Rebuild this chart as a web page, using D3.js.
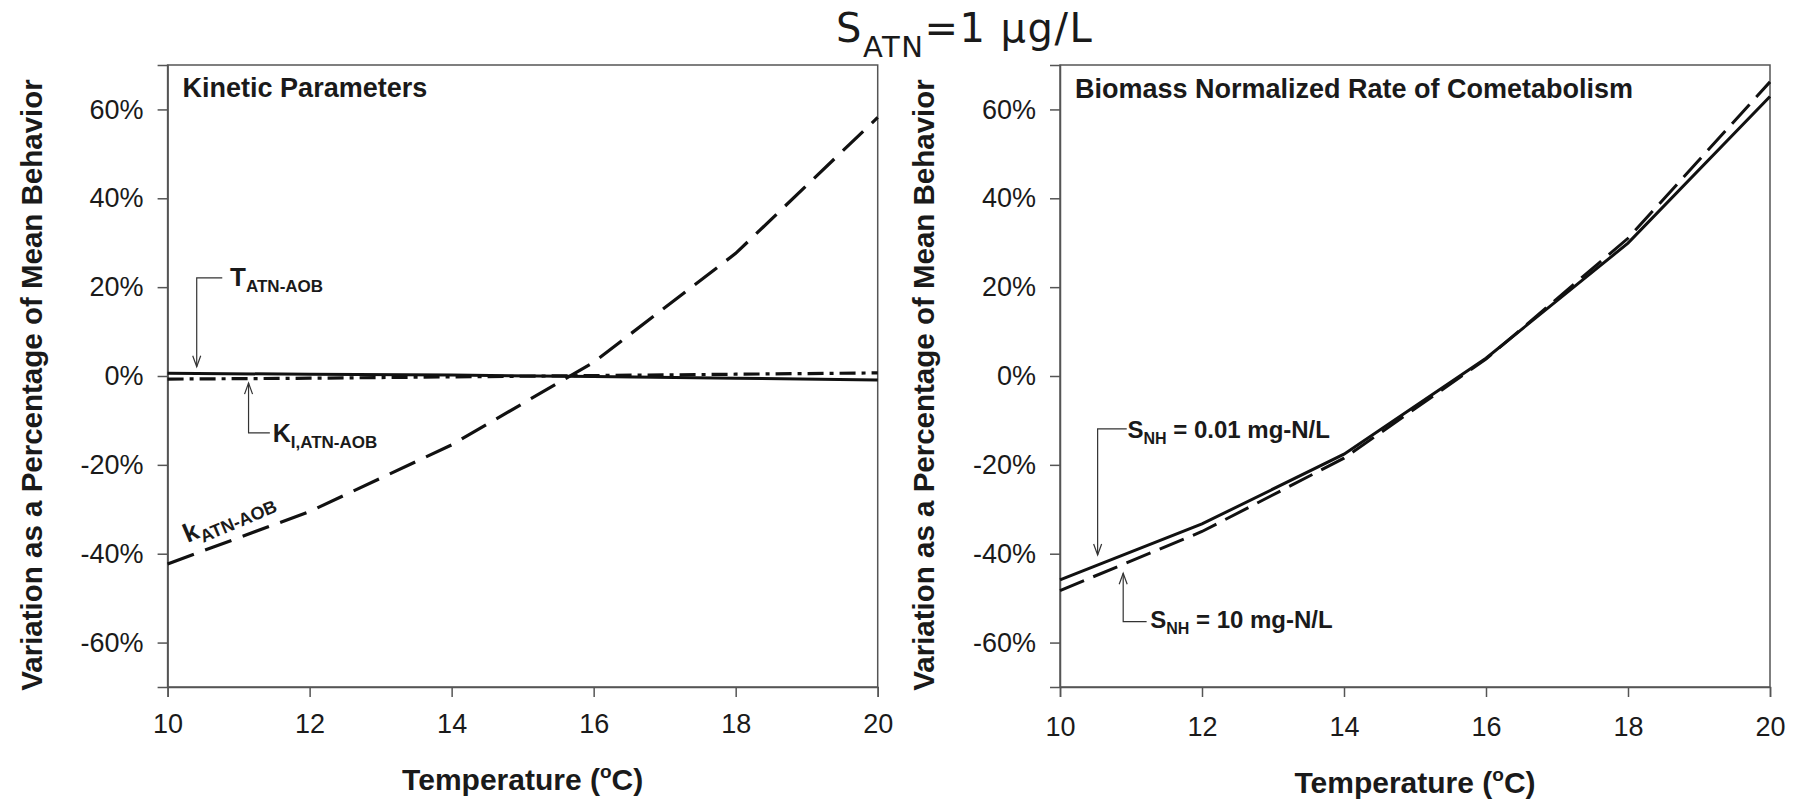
<!DOCTYPE html>
<html>
<head>
<meta charset="utf-8">
<script src="https://cdn.jsdelivr.net/npm/d3@7"></script>
<style>
  html, body { margin: 0; padding: 0; background: #fff; }
  svg { display: block; }
  text { fill: #1a1a1a; }
</style>
</head>
<body>
<script>
// temperatures (°C) on the x axis
const temps = [10, 12, 14, 16, 18, 20];

// left panel: kinetic parameters (% variation)
const kAtnAob = [-42.3, -30.5, -15.5, 3.1, 27.6, 58.2];
const tAtnAob = [0.6, 0.4, 0.2, -0.1, -0.5, -0.9];
const kiAtnAob = [-0.7, -0.5, -0.2, 0.1, 0.4, 0.7];

// right panel: biomass normalized rate of cometabolism
const snhLow = [-45.9, -33.3, -17.6, 4.0, 29.9, 62.9];   // S_NH = 0.01 mg-N/L
const snhHigh = [-48.3, -35.0, -18.5, 3.8, 31.0, 66.2];  // S_NH = 10 mg-N/L

const xTicks = [10, 12, 14, 16, 18, 20];
const yTicks = [-60, -40, -20, 0, 20, 40, 60];

const W = 1799, H = 801;
const plotTop = 65, plotBottom = 687;
const font = "'Liberation Sans', Arial, Helvetica, sans-serif";

const svg = d3.select('body').append('svg')
    .attr('width', W)
    .attr('height', H);

// main title
const title = svg.append('text')
    .attr('x', 836)
    .attr('y', 42)
    .style('font-family', "'DejaVu Sans', 'Open Sans', sans-serif")
    .style('letter-spacing', '1.5px')
    .style('font-size', '40px');
title.append('tspan').text('S');
title.append('tspan').attr('dy', 15).style('font-size', '29px').text('ATN');
title.append('tspan').attr('dy', -15).text('=1 μg/L');

function arrow(g, x, y, dir) {
    // open V arrowhead, dir = 1 points down, -1 points up
    g.append('path')
        .attr('d', `M${x - 4},${y - dir * 11} L${x},${y} L${x + 4},${y - dir * 11}`)
        .attr('fill', 'none')
        .attr('stroke', '#333')
        .attr('stroke-width', 1.2);
}

function subLabel(g, x, y, main, sub, rest, size, subSize, rotate) {
    const t = g.append('text')
        .attr('x', x)
        .attr('y', y)
        .style('font-family', font)
        .style('font-weight', 'bold')
        .style('font-size', size + 'px');
    if (rotate) t.attr('transform', `rotate(${rotate},${x},${y})`);
    t.append('tspan').text(main);
    t.append('tspan').attr('dy', 6).style('font-size', subSize + 'px').text(sub);
    if (rest) t.append('tspan').attr('dy', -6).text(rest);
    return t;
}

function drawPanel(cfg) {
    const g = svg.append('g');
    const x = d3.scaleLinear().domain([10, 20]).range([cfg.left, cfg.right]);
    const y = d3.scaleLinear().domain([-70, 70]).range([plotBottom, plotTop]);

    // frame
    g.append('rect')
        .attr('x', cfg.left)
        .attr('y', plotTop)
        .attr('width', cfg.right - cfg.left)
        .attr('height', plotBottom - plotTop)
        .attr('fill', 'none')
        .attr('stroke', '#555')
        .attr('stroke-width', 1.5);

    const xAxis = g.append('g')
        .attr('transform', `translate(0,${plotBottom})`)
        .call(d3.axisBottom(x).tickValues(xTicks).tickSize(10).tickPadding(17 + cfg.dropX).tickFormat(d3.format('d')));
    const yAxis = g.append('g')
        .attr('transform', `translate(${cfg.left},0)`)
        .call(d3.axisLeft(y).tickValues(yTicks).tickSize(10).tickPadding(14).tickFormat(d => d + '%'));

    [xAxis, yAxis].forEach(a => {
        a.select('.domain').attr('stroke', '#555').attr('stroke-width', 1.5);
        a.selectAll('.tick line').attr('stroke', '#555').attr('stroke-width', 1.5);
        a.selectAll('.tick text')
            .attr('fill', '#1a1a1a')
            .style('font-family', font)
            .style('font-size', '27px');
    });

    // panel heading
    g.append('text')
        .attr('x', cfg.left + 15)
        .attr('y', cfg.headY)
        .style('font-family', font)
        .style('font-weight', 'bold')
        .style('font-size', '27px')
        .text(cfg.heading);

    // axis titles
    g.append('text')
        .attr('transform', `translate(${cfg.left - 126},385) rotate(-90)`)
        .attr('text-anchor', 'middle')
        .style('font-family', font)
        .style('font-weight', 'bold')
        .style('font-size', '29.5px')
        .text('Variation as a Percentage of Mean Behavior');

    const xt = g.append('text')
        .attr('x', (cfg.left + cfg.right) / 2)
        .attr('y', 790 + cfg.dropX)
        .attr('text-anchor', 'middle')
        .style('font-family', font)
        .style('font-weight', 'bold')
        .style('font-size', '30px');
    xt.append('tspan').text('Temperature (');
    xt.append('tspan').attr('dy', -12).style('font-size', '19px').text('o');
    xt.append('tspan').attr('dy', 12).text('C)');

    // series
    const line = d3.line()
        .x(d => x(d[0]))
        .y(d => y(d[1]));
    cfg.series.forEach(s => {
        g.append('path')
            .datum(temps.map((t, i) => [t, s.values[i]]))
            .attr('d', line)
            .attr('fill', 'none')
            .attr('stroke', '#111')
            .attr('stroke-width', s.width)
            .attr('stroke-dasharray', s.dash);
    });

    cfg.notes(g, x, y);
}

drawPanel({
    left: 167.6,
    right: 877.7,
    headY: 97,
    dropX: 0,
    heading: 'Kinetic Parameters',
    series: [
        { values: kAtnAob, dash: '28,12', width: 3.2 },
        { values: kiAtnAob, dash: '16,6,4,6', width: 3.2 },
        { values: tAtnAob, dash: null, width: 3 }
    ],
    notes: (g, x, y) => {
        const ln = (pts) => g.append('path')
            .attr('d', d3.line()(pts))
            .attr('fill', 'none')
            .attr('stroke', '#333')
            .attr('stroke-width', 1.2);
        // T_ATN-AOB leader
        ln([[x(10.77), y(22.1)], [x(10.41), y(22.1)], [x(10.41), y(2.1)]]);
        arrow(g, x(10.41), y(2.1), 1);
        subLabel(g, x(10.88), y(20.2), 'T', 'ATN-AOB', null, 26, 17);
        // K_I,ATN-AOB leader
        ln([[x(11.44), y(-12.8)], [x(11.14), y(-12.8)], [x(11.14), y(-1.6)]]);
        arrow(g, x(11.14), y(-1.6), -1);
        subLabel(g, x(11.48), y(-14.9), 'K', 'I,ATN-AOB', null, 25, 17);
        // k_ATN-AOB along the dashed curve
        subLabel(g, x(10.28), y(-37.6), 'k', 'ATN-AOB', null, 26, 18, -23);
    }
});

drawPanel({
    left: 1060,
    right: 1770,
    headY: 98,
    dropX: 3,
    heading: 'Biomass Normalized Rate of Cometabolism',
    series: [
        { values: snhHigh, dash: '26,10', width: 3 },
        { values: snhLow, dash: null, width: 3 }
    ],
    notes: (g, x, y) => {
        const ln = (pts) => g.append('path')
            .attr('d', d3.line()(pts))
            .attr('fill', 'none')
            .attr('stroke', '#333')
            .attr('stroke-width', 1.2);
        ln([[x(10.94), y(-11.9)], [x(10.53), y(-11.9)], [x(10.53), y(-40.3)]]);
        arrow(g, x(10.53), y(-40.3), 1);
        subLabel(g, x(10.95), y(-14.0), 'S', 'NH', ' = 0.01 mg-N/L', 24, 16);
        ln([[x(11.22), y(-55.3)], [x(10.89), y(-55.3)], [x(10.89), y(-44.4)]]);
        arrow(g, x(10.89), y(-44.4), -1);
        subLabel(g, x(11.27), y(-56.7), 'S', 'NH', ' = 10 mg-N/L', 24, 16);
    }
});
</script>
</body>
</html>
